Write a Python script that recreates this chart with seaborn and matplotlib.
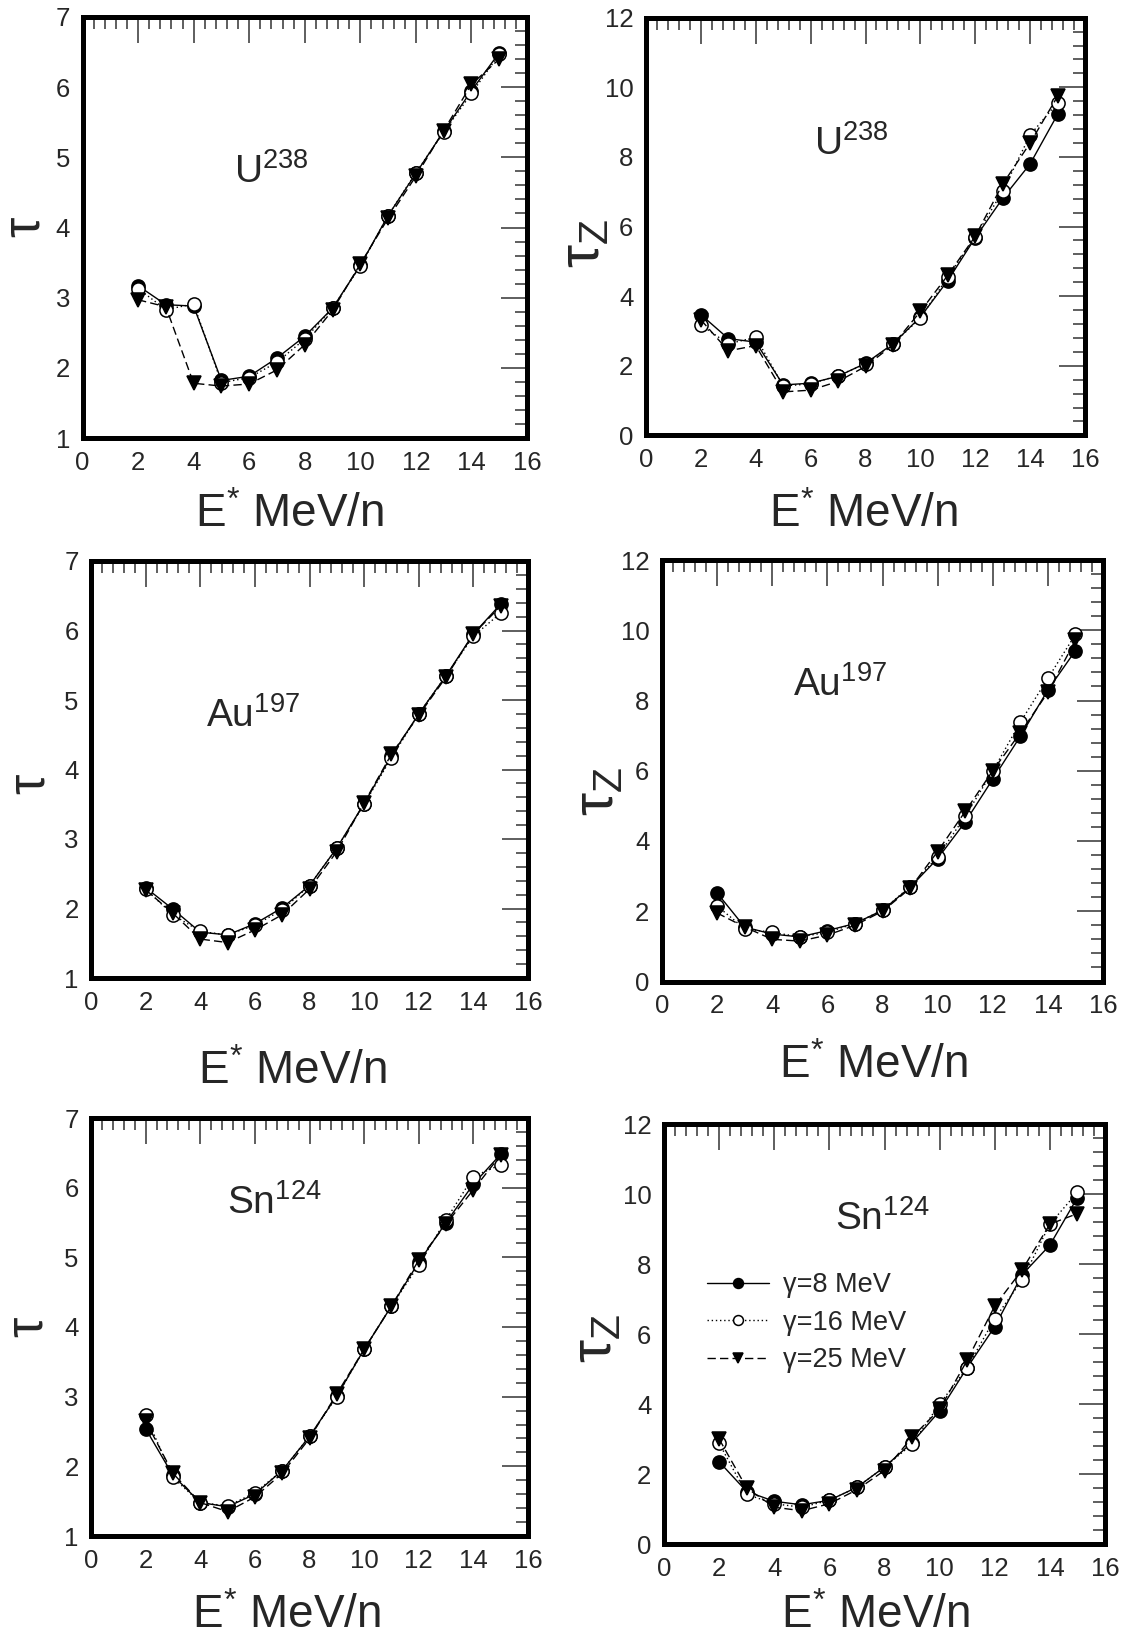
import matplotlib
matplotlib.use("Agg")
import matplotlib.pyplot as plt
from matplotlib.ticker import MultipleLocator
import seaborn as sns
import numpy as np

# ---------------- data ----------------
energy = [2, 3, 4, 5, 6, 7, 8, 9, 10, 11, 12, 13, 14, 15]
series_labels = ["\u03b3=8 MeV", "\u03b3=16 MeV", "\u03b3=25 MeV"]

u_tau_g8 = [3.17, 2.90, 2.88, 1.82, 1.88, 2.14, 2.45, 2.85, 3.46, 4.17, 4.77, 5.37, 5.95, 6.49]
u_tau_g16 = [3.13, 2.83, 2.91, 1.79, 1.86, 2.08, 2.41, 2.85, 3.45, 4.17, 4.78, 5.36, 5.91, 6.47]
u_tau_g25 = [2.97, 2.87, 1.78, 1.74, 1.77, 1.97, 2.33, 2.82, 3.48, 4.13, 4.73, 5.38, 6.04, 6.40]

u_tauz_g8 = [3.47, 2.78, 2.68, 1.45, 1.50, 1.70, 2.07, 2.63, 3.40, 4.45, 5.68, 6.81, 7.80, 9.22]
u_tauz_g16 = [3.17, 2.63, 2.82, 1.42, 1.48, 1.72, 2.05, 2.63, 3.37, 4.55, 5.70, 7.02, 8.63, 9.56]
u_tauz_g25 = [3.32, 2.43, 2.58, 1.25, 1.30, 1.55, 1.98, 2.60, 3.56, 4.60, 5.72, 7.22, 8.40, 9.74]

au_tau_g8 = [2.30, 1.99, 1.66, 1.62, 1.78, 2.01, 2.33, 2.87, 3.51, 4.20, 4.80, 5.35, 5.95, 6.38]
au_tau_g16 = [2.28, 1.91, 1.67, 1.62, 1.76, 1.98, 2.33, 2.87, 3.50, 4.17, 4.80, 5.35, 5.92, 6.25]
au_tau_g25 = [2.27, 1.93, 1.56, 1.51, 1.69, 1.91, 2.28, 2.82, 3.52, 4.22, 4.78, 5.33, 5.95, 6.35]

au_tauz_g8 = [2.52, 1.55, 1.35, 1.27, 1.45, 1.65, 2.03, 2.68, 3.50, 4.54, 5.76, 6.98, 8.30, 9.42]
au_tauz_g16 = [2.15, 1.50, 1.40, 1.27, 1.40, 1.65, 2.03, 2.70, 3.55, 4.70, 5.99, 7.38, 8.63, 9.88]
au_tauz_g25 = [1.95, 1.55, 1.20, 1.15, 1.32, 1.60, 2.00, 2.65, 3.70, 4.84, 6.00, 7.08, 8.23, 9.72]

sn_tau_g8 = [2.54, 1.87, 1.48, 1.42, 1.60, 1.94, 2.43, 3.01, 3.68, 4.30, 4.93, 5.50, 6.05, 6.48]
sn_tau_g16 = [2.73, 1.84, 1.48, 1.43, 1.62, 1.94, 2.43, 3.00, 3.68, 4.30, 4.89, 5.54, 6.16, 6.33]
sn_tau_g25 = [2.65, 1.90, 1.48, 1.35, 1.56, 1.90, 2.40, 3.04, 3.68, 4.30, 4.96, 5.48, 5.97, 6.47]

sn_tauz_g8 = [2.35, 1.50, 1.22, 1.12, 1.25, 1.62, 2.20, 2.90, 3.80, 5.04, 6.21, 7.70, 8.54, 9.90]
sn_tauz_g16 = [2.88, 1.42, 1.15, 1.05, 1.25, 1.62, 2.20, 2.85, 4.00, 5.04, 6.44, 7.55, 9.14, 10.05]
sn_tauz_g25 = [3.00, 1.60, 1.05, 0.95, 1.15, 1.55, 2.10, 3.05, 3.85, 5.25, 6.80, 7.84, 9.14, 9.44]

nuclei = ["U", "U", "Au", "Au", "Sn", "Sn"]
mass_numbers = ["238", "238", "197", "197", "124", "124"]

# ---------------- style ----------------
sns.set_style("white")
plt.rcParams["font.family"] = ["Liberation Sans", "DejaVu Sans"]
plt.rcParams["mathtext.fontset"] = "custom"
plt.rcParams["mathtext.rm"] = "Liberation Sans"
plt.rcParams["mathtext.it"] = "Liberation Sans:italic"
plt.rcParams["mathtext.bf"] = "Liberation Sans:bold"

W, H = 1134, 1638
fig = plt.figure(figsize=(W / 100, H / 100), dpi=100)

# panel geometry in pixels (ylabel: distance left of spine, vertical axes fraction)
panels = [
    dict(x0=82.5, x1=527, yt=17, yb=438, xl=77, xo=-15, yl=57, yv=0.5, txt=(5.45, 4.64)),
    dict(x0=646, x1=1085, yt=17.7, yb=435.4, xl=80, xo=-2, yl=62, yv=0.46, txt=(6.12, 8.06)),
    dict(x0=91, x1=528, yt=561, yb=978, xl=94, xo=-17, yl=60, yv=0.465, txt=(4.2, 4.61)),
    dict(x0=662, x1=1103, yt=560, yb=981.5, xl=85, xo=-9, yl=64, yv=0.45, txt=(4.75, 8.12)),
    dict(x0=91, x1=528, yt=1118, yb=1536, xl=80, xo=-23, yl=62, yv=0.5, txt=(4.98, 5.62)),
    dict(x0=664, x1=1105, yt=1124, yb=1544, xl=72, xo=-9, yl=68, yv=0.49, txt=(6.2, 8.98)),
]

data = [
    (u_tau_g8, u_tau_g16, u_tau_g25),
    (u_tauz_g8, u_tauz_g16, u_tauz_g25),
    (au_tau_g8, au_tau_g16, au_tau_g25),
    (au_tauz_g8, au_tauz_g16, au_tauz_g25),
    (sn_tau_g8, sn_tau_g16, sn_tau_g25),
    (sn_tauz_g8, sn_tauz_g16, sn_tauz_g25),
]

styles = [
    dict(marker="o", markerfacecolor="black", linestyle="-"),
    dict(marker="o", markerfacecolor="white", linestyle=(0, (1, 2))),
    dict(marker="v", markerfacecolor="black", linestyle=(0, (6, 3))),
]

for i, (p, series) in enumerate(zip(panels, data)):
    left = p["x0"] / W
    width = (p["x1"] - p["x0"]) / W
    bottom = 1 - p["yb"] / H
    height = (p["yb"] - p["yt"]) / H
    ax = fig.add_axes([left, bottom, width, height])
    is_z = (i % 2 == 1)

    handles = []
    for vals, st, lab in zip(series, styles, series_labels):
        sns.lineplot(x=energy, y=vals, ax=ax, color="black", errorbar=None,
                     marker=st["marker"], markersize=9.5,
                     markerfacecolor=st["markerfacecolor"],
                     markeredgecolor="black", markeredgewidth=1.1,
                     linestyle=st["linestyle"], linewidth=1.0)
        handles.append(ax.lines[-1])

    ax.set_xlim(0, 16)
    if is_z:
        ax.set_ylim(0, 12)
        ax.yaxis.set_major_locator(MultipleLocator(2))
        ax.yaxis.set_minor_locator(MultipleLocator(0.4))
        ax.set_ylabel(r"$\mathrm{\tau}_\mathrm{Z}$", fontsize=42, va="center")
    else:
        ax.set_ylabel(r"$\mathrm{\tau}$", fontsize=37, va="center")
        ax.set_ylim(1, 7)
        ax.yaxis.set_major_locator(MultipleLocator(1))
        ax.yaxis.set_minor_locator(MultipleLocator(0.2))
    ax.xaxis.set_major_locator(MultipleLocator(2))
    ax.xaxis.set_minor_locator(MultipleLocator(0.4))

    ax.set_xlabel(r"$\mathrm{E^{*}}$ MeV/n", fontsize=33, va="center")
    hpx = p["yb"] - p["yt"]
    wpx = p["x1"] - p["x0"]
    ax.xaxis.set_label_coords(0.5 + p["xo"] / wpx, -p["xl"] / hpx)
    ax.yaxis.set_label_coords(-p["yl"] / wpx, p["yv"])

    ax.tick_params(which="both", direction="in", top=True, right=True,
                   color="#333333", width=1.1, labelsize=18.5)
    ax.tick_params(which="major", length=19, pad=9)
    ax.tick_params(which="minor", length=8.5)
    for sp in ax.spines.values():
        sp.set_linewidth(3.6)
        sp.set_color("black")
        sp.set_capstyle("projecting")

    tx, ty = p["txt"]
    ax.text(tx, ty, r"$\mathrm{%s^{%s}}$" % (nuclei[i], mass_numbers[i]),
            fontsize=28, ha="left", va="baseline")

    if i == 5:
        ax.legend(handles, series_labels, loc="upper left",
                  bbox_to_anchor=(0.097, 0.647), frameon=False,
                  fontsize=19.5, handlelength=2.3, handletextpad=0.5,
                  labelspacing=0.42, borderpad=0, borderaxespad=0,
                  markerscale=0.75)

fig.savefig("out.png", dpi=100)
